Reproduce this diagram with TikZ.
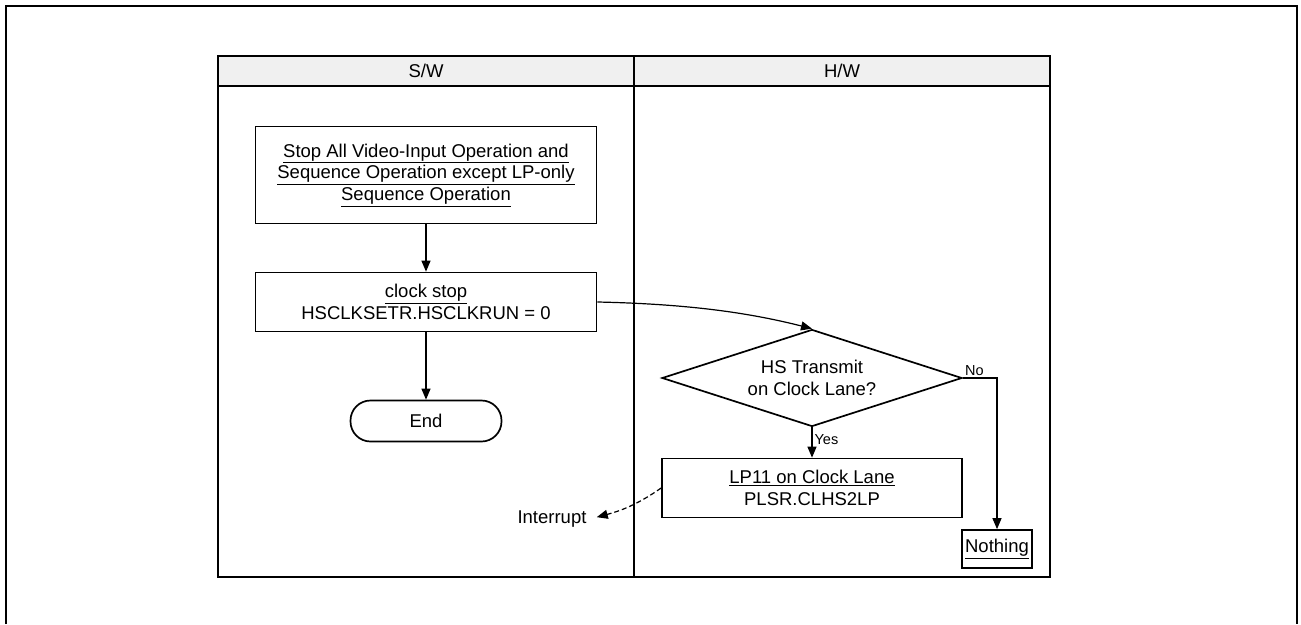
\documentclass[tikz,border=0pt]{standalone}
\usepackage{fontspec}
\setmainfont{Liberation Sans}
\usetikzlibrary{positioning,arrows.meta,shapes.geometric}
\definecolor{laneGray}{HTML}{F0F0F0}
\begin{document}
\begin{tikzpicture}[x=1pt, y=-1pt, font=\fontsize{18.5}{21.7}\selectfont,
  proc/.style={draw, line width=1.7pt, align=center, inner sep=0pt, minimum width=341pt},
  term/.style={draw, line width=1.7pt, rounded corners=20pt, minimum width=151pt, minimum height=41pt, inner sep=0pt},
  dec/.style={draw, line width=1.7pt, diamond, aspect=3, align=center, inner sep=0pt, minimum width=300pt, minimum height=97pt},
  arr/.style={line width=1.2pt, -{Triangle[length=11pt,width=9pt]}},
  lbl/.style={font=\fontsize{14.5}{17}\selectfont, inner sep=2pt}]
\useasboundingbox (0,0) rectangle (1301,624);
\draw[line width=2.2pt] (6,624) -- (6,6) -- (1297,6) -- (1297,624);
\draw[line width=1.1pt, fill=laneGray] (218,56) rectangle (1050,86);
\draw[line width=1.1pt] (218,86) rectangle (1050,577);
\draw[line width=1.1pt] (634,56) -- (634,577);
\node (hsw) at (426,71) {S/W};
\node (hhw) at (842,71) {H/W};
\node[proc, minimum height=97pt] (s1) at (426,175) {\underline{Stop All Video-Input Operation and}\\\underline{Sequence Operation except LP-only}\\\underline{Sequence Operation}};
\node[proc, minimum height=59pt] (s2) at (426,302) {\underline{clock stop}\\HSCLKSETR.HSCLKRUN = 0};
\node[term] (endn) at (426,421) {End};
\node[dec] (dq) at (812,378) {HS Transmit\\on Clock Lane?};
\node[proc, minimum width=300pt, minimum height=59pt] (lp) at (812,488) {\underline{LP11 on Clock Lane}\\PLSR.CLHS2LP};
\node[draw, line width=1.7pt, minimum width=70pt, minimum height=38pt, inner sep=0pt] (noth) at (997,549) {\underline{Nothing}};
\node (intr) at (552,519) {Interrupt};
\draw[arr] (s1) -- (s2);
\draw[arr] (s2) -- (endn);
\draw[arr] (s2.east) .. controls (690,304) and (750,313) .. (dq.north);
\draw[arr] (dq) -- node[lbl, right, pos=0.4] {Yes} (lp);
\draw[arr] (dq.east) -| node[lbl, above, pos=0.17] {No} (noth.north);
\draw[arr, dash pattern=on 5pt off 3pt, shorten >=7pt] (lp.west) to[out=-145, in=15] (intr.east);
\end{tikzpicture}
\end{document}
